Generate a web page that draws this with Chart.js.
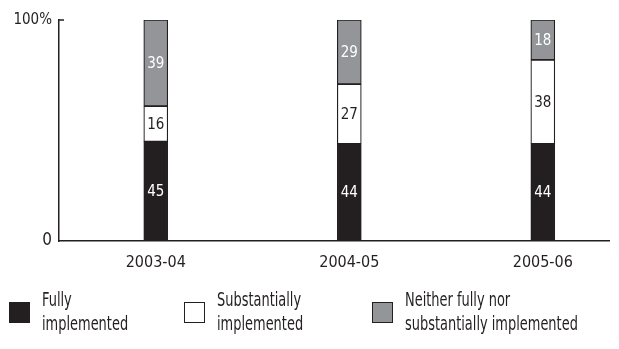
<!DOCTYPE html>
<html lang="en">
<head>
    <meta charset="UTF-8">
    <title>Implementation status</title>
    <style>
        body {
            margin: 0;
            background: #fff;
            font-family: 'Liberation Sans Narrow', 'DejaVu Sans Condensed', 'Roboto Condensed', sans-serif;
            color: #231f20;
        }

        .wrap {
            position: relative;
            width: 619px;
            height: 349px;
        }

        .legend-item {
            position: absolute;
            top: 287px;
            font-size: 20px;
            line-height: 24px;
        }

        .legend-item .text {
            display: inline-block;
            white-space: nowrap;
            transform: scaleX(0.72);
            transform-origin: left top;
        }

        .legend-item .box {
            position: absolute;
            left: -33px;
            top: 15px;
            width: 19px;
            height: 19px;
            border: 1.5px solid #231f20;
        }
    </style>
    <script src="https://cdn.jsdelivr.net/npm/chart.js"></script>
</head>
<body>
    <div class="wrap">
        <canvas id="chart"></canvas>
        <div id="legend"></div>
    </div>

    <script>
        const years = ['2003-04', '2004-05', '2005-06'];
        const fully = [45, 44, 44];
        const substantially = [16, 27, 38];
        const neither = [39, 29, 18];
        const seriesNames = [
            ['Fully', 'implemented'],
            ['Substantially', 'implemented'],
            ['Neither fully nor', 'substantially implemented']
        ];
        const yTicks = [0, 100];

        const ink = '#231f20';
        const fills = [ink, '#ffffff', '#939598'];
        const labelColors = ['#ffffff', ink, '#ffffff'];
        const legendLeft = [42, 217, 405];
        const fontFamily = "'Liberation Sans Narrow', 'DejaVu Sans Condensed', 'Roboto Condensed', sans-serif";

        function points(values) {
            return values.map((v, i) => ({ x: i, y: v }));
        }

        // numbers inside each segment
        const segmentLabels = {
            id: 'segmentLabels',
            afterDatasetsDraw(chart) {
                const ctx = chart.ctx;
                ctx.save();
                ctx.font = '15px ' + fontFamily;
                ctx.textAlign = 'center';
                ctx.textBaseline = 'middle';
                chart.data.datasets.forEach((ds, di) => {
                    chart.getDatasetMeta(di).data.forEach((bar, i) => {
                        ctx.fillStyle = labelColors[di];
                        ctx.fillText(ds.data[i].y, bar.x, (bar.y + bar.base) / 2 + 1);
                    });
                });
                ctx.restore();
            }
        };

        // little tick at the top of the y axis, pointing inwards
        const topTick = {
            id: 'topTick',
            afterDraw(chart) {
                const { ctx, chartArea } = chart;
                ctx.save();
                ctx.strokeStyle = ink;
                ctx.lineWidth = 1.5;
                ctx.beginPath();
                ctx.moveTo(chartArea.left, chartArea.top);
                ctx.lineTo(chartArea.left + 5, chartArea.top);
                ctx.stroke();
                ctx.restore();
            }
        };

        new Chart(document.getElementById('chart'), {
            type: 'bar',
            data: {
                datasets: [fully, substantially, neither].map((vals, i) => ({
                    label: seriesNames[i].join(' '),
                    data: points(vals),
                    backgroundColor: fills[i],
                    borderColor: ink,
                    borderWidth: 1.2,
                    borderSkipped: false,
                    barThickness: 24
                }))
            },
            options: {
                responsive: true,
                maintainAspectRatio: false,
                animation: false,
                layout: { padding: { top: 20, right: 10 } },
                plugins: {
                    legend: { display: false },
                    tooltip: { enabled: false }
                },
                scales: {
                    x: {
                        type: 'linear',
                        stacked: true,
                        offset: false,
                        min: -0.5,
                        max: 2.342,
                        afterBuildTicks(scale) {
                            scale.ticks = years.map((y, i) => ({ value: i }));
                        },
                        afterFit(scale) { scale.height = 108; },
                        grid: { display: false, drawTicks: false, offset: false },
                        border: { color: ink, width: 1.5 },
                        ticks: {
                            padding: 12,
                            color: ink,
                            font: { family: fontFamily, size: 16 },
                            maxRotation: 0,
                            callback: v => years[v]
                        }
                    },
                    y: {
                        stacked: true,
                        min: 0,
                        max: 100,
                        afterBuildTicks(scale) {
                            scale.ticks = yTicks.map(v => ({ value: v }));
                        },
                        afterFit(scale) { scale.width = 59; },
                        grid: { display: false, drawTicks: false },
                        border: { color: ink, width: 1.5 },
                        ticks: {
                            padding: 7,
                            color: ink,
                            font: ctx => ({ family: fontFamily, size: ctx.tick && ctx.tick.value === 100 ? 15 : 17 }),
                            callback: v => v === 100 ? '100%' : '0'
                        }
                    }
                }
            },
            plugins: [segmentLabels, topTick]
        });

        // legend below the chart
        const legend = document.getElementById('legend');
        seriesNames.forEach((lines, i) => {
            const item = document.createElement('div');
            item.className = 'legend-item';
            item.style.left = legendLeft[i] + 'px';
            item.innerHTML = '<span class="box" style="background:' + fills[i] + '"></span>' +
                '<span class="text">' + lines.join('<br>') + '</span>';
            legend.appendChild(item);
        });
    </script>
</body>
</html>
